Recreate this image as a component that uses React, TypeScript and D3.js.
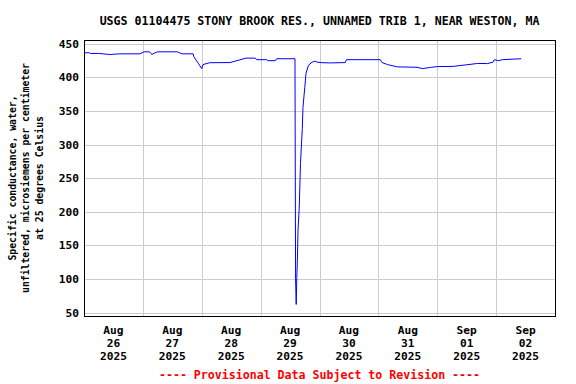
import React from "react";
import * as d3 from "d3";

const titleText = "USGS 01104475 STONY BROOK RES., UNNAMED TRIB 1, NEAR WESTON, MA";
const yLabelLines = [
  "Specific conductance, water,",
  "unfiltered, microsiemens per centimeter",
  "at 25 degrees Celsius",
];
const footerText = "---- Provisional Data Subject to Revision ----";

const yTicks = [50, 100, 150, 200, 250, 300, 350, 400, 450];
const dayTicks = [
  "2025-08-26", "2025-08-27", "2025-08-28", "2025-08-29",
  "2025-08-30", "2025-08-31", "2025-09-01", "2025-09-02",
];
const dayLabelMonth = ["Aug", "Aug", "Aug", "Aug", "Aug", "Aug", "Sep", "Sep"];
const dayLabelDay = ["26", "27", "28", "29", "30", "31", "01", "02"];
const dayLabelYear = ["2025", "2025", "2025", "2025", "2025", "2025", "2025", "2025"];

const times = [
  "2025-08-26T00:00", "2025-08-26T02:15", "2025-08-26T02:30", "2025-08-26T06:00",
  "2025-08-26T10:30", "2025-08-26T14:30", "2025-08-26T22:45", "2025-08-27T00:30",
  "2025-08-27T02:45", "2025-08-27T03:45", "2025-08-27T04:00", "2025-08-27T06:00",
  "2025-08-27T14:00", "2025-08-27T16:00", "2025-08-27T20:30", "2025-08-27T20:45",
  "2025-08-27T22:00", "2025-08-27T22:45", "2025-08-28T00:00", "2025-08-28T00:30",
  "2025-08-28T03:15", "2025-08-28T11:30", "2025-08-28T15:30", "2025-08-28T18:00",
  "2025-08-28T21:45", "2025-08-28T22:30", "2025-08-29T02:30", "2025-08-29T03:00",
  "2025-08-29T06:00", "2025-08-29T06:30", "2025-08-29T14:00", "2025-08-29T14:15",
  "2025-08-29T14:30", "2025-08-29T14:45", "2025-08-29T15:00", "2025-08-29T15:15",
  "2025-08-29T15:45", "2025-08-29T16:15", "2025-08-29T17:00", "2025-08-29T17:15",
  "2025-08-29T18:00", "2025-08-29T18:30", "2025-08-29T19:30", "2025-08-29T21:00",
  "2025-08-29T22:15", "2025-08-29T23:00", "2025-08-30T01:00", "2025-08-30T04:30",
  "2025-08-30T10:30", "2025-08-30T11:00", "2025-08-31T00:45", "2025-08-31T01:30",
  "2025-08-31T03:45", "2025-08-31T07:45", "2025-08-31T15:45", "2025-08-31T18:00",
  "2025-08-31T21:15", "2025-09-01T00:00", "2025-09-01T06:30", "2025-09-01T11:30",
  "2025-09-01T16:30", "2025-09-01T20:30", "2025-09-01T22:45", "2025-09-01T23:15",
  "2025-09-02T01:00", "2025-09-02T02:30", "2025-09-02T10:15",
];
const values = [
  436.6, 436.6, 435.6, 435.6,
  434, 435, 435, 438,
  438, 433.7, 435, 438,
  438, 435, 435, 431,
  424, 420, 413, 419,
  421.8, 422, 426, 428.6,
  428.6, 426.3, 426.3, 424.8,
  424.8, 427.7, 427.7, 100,
  62, 102, 131, 173,
  207, 272, 324, 355,
  385, 406, 418, 422.7,
  424, 422.7, 421.8, 421.5,
  422, 426.3, 426.3, 422,
  419, 415.6, 415, 413,
  414.8, 416, 416.3, 418.5,
  420.7, 420.5, 422.7, 426.3,
  424.8, 426.3, 427.7,
];

const W = 576;
const H = 384;
const plotL = 84;
const plotR = 555;
const plotT = 40;
const plotB = 316;
const mono = "'DejaVu Sans Mono', 'Liberation Mono', monospace";

export default function App() {
  const parse = d3.utcParse("%Y-%m-%dT%H:%M");
  const parseDay = d3.utcParse("%Y-%m-%d");
  const x = d3
    .scaleUtc()
    .domain([parseDay("2025-08-26") as Date, parseDay("2025-09-03") as Date])
    .range([plotL, plotR]);
  const y = d3.scaleLinear().domain([44.8, 455.6]).range([plotB, plotT]);

  const data = times.map((t, i) => ({ t: parse(t) as Date, v: values[i] }));
  const line = d3
    .line<{ t: Date; v: number }>()
    .x((d) => x(d.t))
    .y((d) => y(d.v))
    .curve(d3.curveLinear);

  const days = dayTicks.map((d) => parseDay(d) as Date);
  const gridDays = days.slice(1);
  const cx = (plotL + plotR) / 2;

  return (
    <svg width={W} height={H} style={{ display: "block", position: "absolute", left: 0, top: 0 }}>
      <rect x={0} y={0} width={W} height={H} fill="#ffffff" />
      <g shapeRendering="crispEdges">
        {yTicks.map((v) => (
          <line key={"gy" + v} x1={plotL} x2={plotR} y1={Math.round(y(v)) + 0.5} y2={Math.round(y(v)) + 0.5} stroke="#cccccc" strokeWidth={1} />
        ))}
        {gridDays.map((d, i) => (
          <line key={"gx" + i} x1={Math.round(x(d)) + 0.5} x2={Math.round(x(d)) + 0.5} y1={plotT} y2={plotB} stroke="#cccccc" strokeWidth={1} />
        ))}
      </g>
      <path d={line(data) || ""} fill="none" stroke="#0000ff" strokeWidth={1} />
      <rect x={plotL + 0.5} y={plotT + 0.5} width={plotR - plotL} height={plotB - plotT} fill="none" stroke="#000000" strokeWidth={1} shapeRendering="crispEdges" />
      <text x={cx} y={24.5} textAnchor="middle" fontFamily={mono} fontWeight="bold" fontSize={11.6} fill="#000">
        {titleText}
      </text>
      {yTicks.map((v) => (
        <text key={"ty" + v} x={79} y={y(v) + 4} textAnchor="end" fontFamily={mono} fontWeight="bold" fontSize={11.2} fill="#000">
          {v}
        </text>
      ))}
      {days.map((d, i) => {
        const xm = x(d3.utcHour.offset(d, 12));
        return (
          <g key={"tx" + i}>
            <text x={xm} y={334} textAnchor="middle" fontFamily={mono} fontWeight="bold" fontSize={11.2} fill="#000">{dayLabelMonth[i]}</text>
            <text x={xm} y={347} textAnchor="middle" fontFamily={mono} fontWeight="bold" fontSize={11.2} fill="#000">{dayLabelDay[i]}</text>
            <text x={xm} y={360} textAnchor="middle" fontFamily={mono} fontWeight="bold" fontSize={11.2} fill="#000">{dayLabelYear[i]}</text>
          </g>
        );
      })}
      {yLabelLines.map((s, i) => (
        <text
          key={"yl" + i}
          transform={`translate(${15.5 + i * 13.5},${(plotT + plotB) / 2}) rotate(-90)`}
          textAnchor="middle"
          fontFamily={mono}
          fontWeight="bold"
          fontSize={9.8}
          fill="#000"
        >
          {s}
        </text>
      ))}
      <text x={cx} y={378.5} textAnchor="middle" fontFamily={mono} fontWeight="bold" fontSize={11.6} fill="#ff0000">
        {footerText}
      </text>
    </svg>
  );
}
